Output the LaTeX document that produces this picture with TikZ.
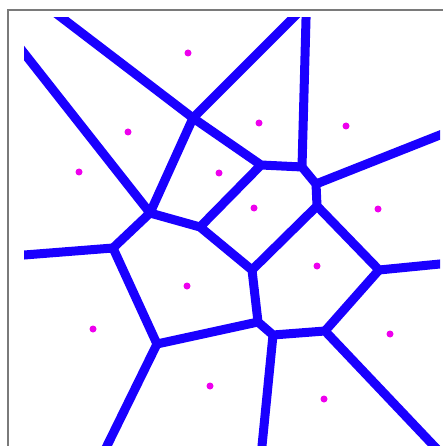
\documentclass[tikz,border=0pt]{standalone}
\usetikzlibrary{calc}
\definecolor{cellblue}{HTML}{1A00FF}
\definecolor{sitemag}{HTML}{EE00EE}
\definecolor{frame}{HTML}{7A7A7A}
\tikzset{x=1pt,y=-1pt,
  wall/.style={draw=cellblue,line width=9pt,line cap=round,line join=round},
  site/.style={circle,fill=sitemag,inner sep=0pt,minimum size=7pt},
  frameline/.style={draw=frame,line width=1.1pt}}
\begin{document}
\begin{tikzpicture}
\useasboundingbox (0,0) rectangle (443,446);
\draw[frameline] (8,460)--(8,10)--(460,10);
% inner vertices
\coordinate (A) at (193,118);
\coordinate (B) at (150,213);
\coordinate (C) at (261,165);
\coordinate (D) at (302,167);
\coordinate (E) at (316,184);
\coordinate (F) at (317,206);
\coordinate (H) at (252,270);
\coordinate (I) at (200,227);
\coordinate (J) at (379,270);
\coordinate (K) at (325,331);
\coordinate (L) at (273,335);
\coordinate (N) at (258,322);
\coordinate (O) at (113,248);
\coordinate (P) at (157,344);
% ends outside the window
\coordinate (t1) at (49,8);
\coordinate (t2) at (303,8);
\coordinate (t3) at (306.3,8);
\coordinate (l1) at (14,40.3);
\coordinate (l2) at (14,255.8);
\coordinate (r1) at (450,131);
\coordinate (r2) at (450,263);
\coordinate (b1) at (102,456);
\coordinate (b2) at (261,456);
\coordinate (b3) at (443.5,456);
\begin{scope}
\clip (24,18) rectangle (440,446);
\draw[wall] (t1)--(A) (t2)--(A) (A)--(B) (A)--(C) (C)--(D) (D)--(t3)
  (D)--(E) (E)--(r1) (E)--(F) (F)--(H) (F)--(J) (J)--(r2) (J)--(K)
  (K)--(b3) (K)--(L) (L)--(b2) (L)--(N) (N)--(H) (N)--(P) (P)--(b1)
  (P)--(O) (O)--(l2) (O)--(B) (B)--(I) (I)--(C) (I)--(H) (B)--(l1);
\end{scope}
\foreach \x/\y [count=\i] in {188/53,128/132,79/172,219/173,259/123,346/126,
  254/208,378/209,187/286,93/329,210/386,317/266,390/334,324/399}
  \node[site] (s\i) at (\x,\y) {};
\end{tikzpicture}
\end{document}
